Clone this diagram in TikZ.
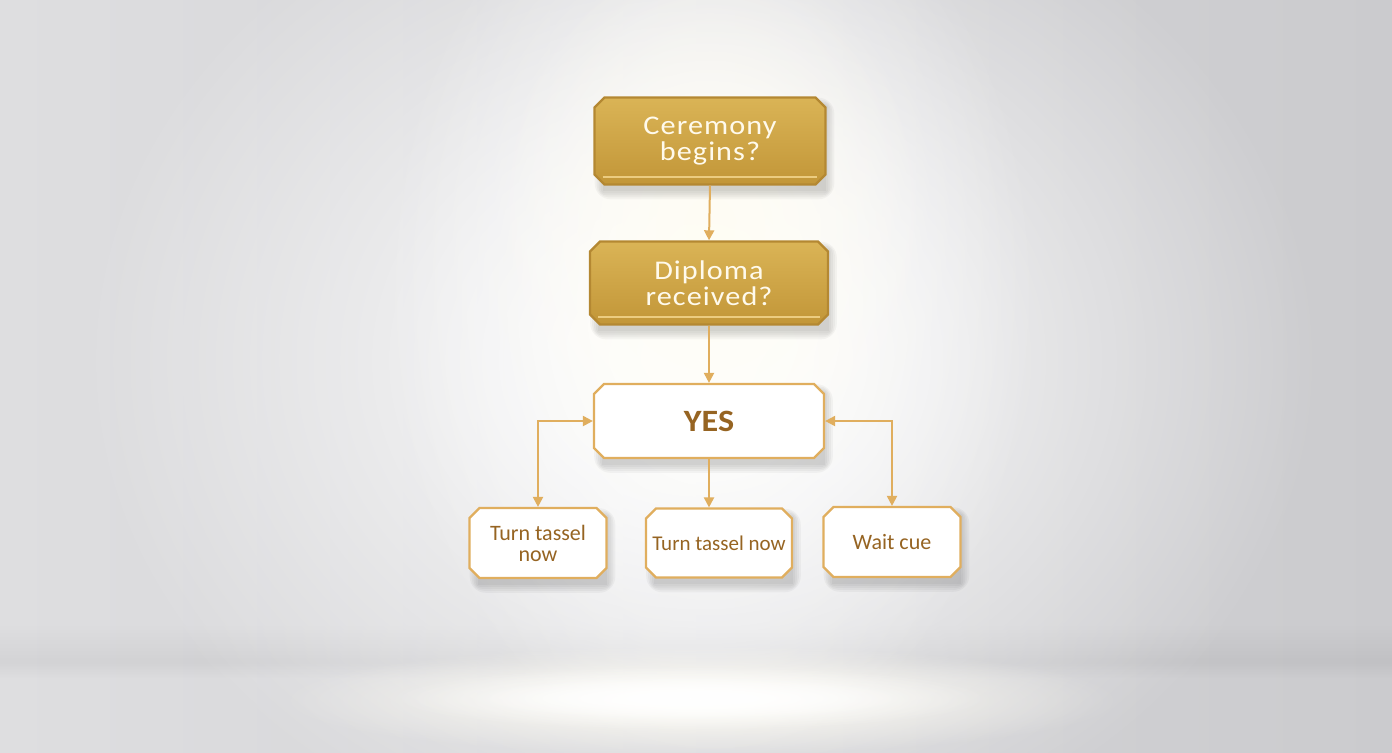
\documentclass[tikz,border=0pt]{standalone}
\usepackage{fontspec}
\setmainfont{Carlito}
\newfontfamily\goldfont[LetterSpace=4,FakeStretch=1.12]{Carlito}
\newfontfamily\yesfont[FakeStretch=1.1]{Carlito}
\usetikzlibrary{shapes.misc,arrows.meta,fadings}
\definecolor{bgleft}{RGB}{222,222,224}
\definecolor{bgright}{RGB}{203,203,206}
\definecolor{glow}{RGB}{255,253,244}
\definecolor{goldtop}{RGB}{218,180,86}
\definecolor{goldbot}{RGB}{194,150,56}
\definecolor{goldedge}{RGB}{180,136,50}
\definecolor{bevel}{RGB}{236,204,128}
\definecolor{arrowgold}{RGB}{224,174,94}
\definecolor{textbrown}{RGB}{150,100,34}
\definecolor{cream}{RGB}{255,250,236}
\tikzfading[name=softglow, inner color=transparent!0, outer color=transparent!100]
\pgfdeclarelayer{bg}\pgfdeclarelayer{shadow}
\pgfsetlayers{bg,shadow,main}
\tikzset{
  cbox/.style={chamfered rectangle, chamfered rectangle xsep=2.5pt, chamfered rectangle ysep=2.5pt,
    inner sep=0pt, align=center},
  goldbox/.style={cbox, draw=goldedge, line width=1.2pt, top color=goldtop, bottom color=goldbot,
    text=cream, font=\goldfont\fontsize{13.5}{13}\selectfont},
  whitebox/.style={cbox, draw=arrowgold, line width=1.1pt, fill=white, text=textbrown},
  conn/.style={draw=arrowgold, line width=1pt, -{Triangle[length=5pt,width=5pt]}},
  dconn/.style={draw=arrowgold, line width=1pt, {Triangle[length=5pt,width=5pt]}-{Triangle[length=5pt,width=5pt]}},
  shadowlayer/.style={black, opacity=0.035}
}
\begin{document}
\begin{tikzpicture}[x=0.5pt,y=-0.5pt]
\useasboundingbox (0,0) rectangle (1392,752);
% nodes
\node[goldbox, minimum width=115.5pt, minimum height=43.5pt] (q1) at (710,141) {Ceremony\\begins?};
\node[goldbox, minimum width=119pt, minimum height=41.5pt] (q2) at (709,283) {Diploma\\received?};
\node[whitebox, minimum width=115pt, minimum height=37pt, font=\yesfont\fontsize{15.5}{16}\selectfont\bfseries] (yes) at (709,421) {YES};
\node[whitebox, minimum width=68.5pt, minimum height=35pt, font=\fontsize{11}{10.5}\selectfont] (b1) at (538,543) {Turn tassel\\now};
\node[whitebox, minimum width=73pt, minimum height=34.5pt, font=\fontsize{10.5}{10.5}\selectfont] (b2) at (719,543) {Turn tassel now};
\node[whitebox, minimum width=68.5pt, minimum height=35pt, font=\fontsize{11}{11}\selectfont] (b3) at (892,542) {Wait cue};
% bevel highlights on gold boxes
\draw[bevel, line width=0.8pt] ([xshift=2pt, yshift=1.8pt]q1.south west) -- ([xshift=-2pt, yshift=1.8pt]q1.south east);
\draw[bevel, line width=0.8pt] ([xshift=2pt, yshift=1.8pt]q2.south west) -- ([xshift=-2pt, yshift=1.8pt]q2.south east);
% connectors
\draw[conn] (q1.south) -- (q2.north);
\draw[conn] (q2.south) -- (yes.north);
\draw[conn] (yes.south) -- (yes.south |- b2.north);
\draw[dconn] (yes.west) -| (b1.north);
\draw[dconn] (yes.east) -| (b3.north);
% shadows
\begin{pgfonlayer}{shadow}
\foreach \n in {q1,q2,yes,b1,b2,b3}{
  \foreach \r in {0,2,4,6,8}{
    \fill[shadowlayer, rounded corners=\r] ([shift={(4-\r,4-\r)}]\n.north west) rectangle ([shift={(5+\r,11+\r)}]\n.south east);
  }
}
\end{pgfonlayer}
% background
\begin{pgfonlayer}{bg}
\shade[left color=bgleft, right color=bgright] (0,0) rectangle (1392,752);
\foreach \i in {0,...,9}{ \fill[black, opacity=0.0045] (0,626+3.6*\i) rectangle (1392,664+1.6*\i); }
\fill[white, path fading=softglow] (700,360) ellipse (620 and 520);
\fill[white, path fading=softglow] (710,300) ellipse (330 and 460);
\fill[glow, path fading=softglow] (710,230) ellipse (220 and 280);
\fill[glow, path fading=softglow] (700,700) ellipse (420 and 55);
\fill[white, path fading=softglow] (690,698) ellipse (300 and 32);
\fill[white, path fading=softglow] (690,698) ellipse (220 and 22);
\end{pgfonlayer}
\end{tikzpicture}
\end{document}
